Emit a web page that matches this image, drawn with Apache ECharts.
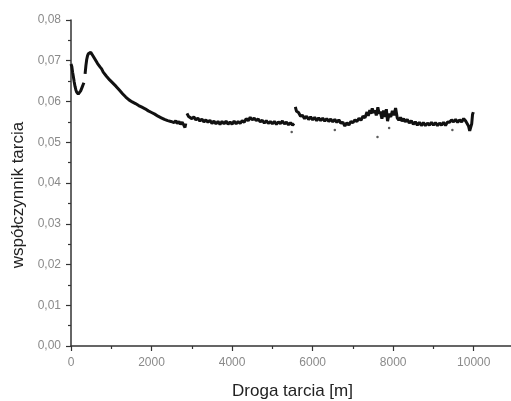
<!DOCTYPE html>
<html>
<head>
<meta charset="utf-8">
<script src="https://cdn.jsdelivr.net/npm/echarts@6/dist/echarts.min.js"></script>
<style>
  html, body { margin: 0; padding: 0; background: #fff; }
  #chart { width: 511px; height: 401px; }
</style>
</head>
<body>
<div id="chart"></div>
<script>
// Sliding distance [m]; null entries break the trace where the measurement restarts
var distance = [
  0, 20, 40, 60, 80, 100, 120, 140, 160, 180, 200, 220, 240, 260, 280, 300, 320,
  335,
  350, 370, 390, 410, 430, 450, 470, 490, 510, 540, 570, 600, 630, 660, 690, 720, 760, 800, 840, 880, 920, 960,
  1000, 1040, 1080, 1120, 1160, 1200, 1240, 1280, 1320, 1360, 1400, 1440, 1480, 1520, 1560, 1600, 1640, 1680,
  1720, 1760, 1800, 1840, 1880, 1920, 1960, 2000, 2040, 2080, 2120, 2160, 2200, 2240, 2280, 2320, 2360, 2400,
  2440, 2480, 2520, 2560, 2600, 2640, 2680, 2720, 2760, 2800, 2830, 2850,
  2860,
  2880, 2920, 2960, 3000, 3050, 3100, 3150, 3200, 3250, 3300, 3350, 3400, 3450, 3500, 3550, 3600, 3650, 3700,
  3750, 3800, 3850, 3900, 3950, 4000, 4050, 4100, 4150, 4200, 4250, 4300, 4350, 4400, 4450, 4500, 4550, 4600,
  4650, 4700, 4750, 4800, 4850, 4900, 4950, 5000, 5050, 5100, 5150, 5200, 5250, 5300, 5350, 5400, 5450, 5500, 5540,
  5550,
  5570, 5600, 5650, 5700, 5750, 5800, 5850, 5900, 5950, 6000, 6050, 6100, 6150, 6200, 6250, 6300, 6350, 6400,
  6450, 6500, 6550, 6600, 6650, 6700, 6750, 6800, 6850, 6900, 6950, 7000, 7050, 7100, 7150, 7200, 7250, 7300,
  7350, 7380, 7420, 7450, 7480, 7520, 7550, 7580, 7620, 7650, 7680, 7720, 7760, 7800, 7830, 7860, 7900, 7940,
  7980, 8020, 8060, 8100, 8140, 8180, 8220, 8260, 8300, 8350, 8400, 8450, 8500, 8550, 8600, 8650, 8700, 8750,
  8800, 8850, 8900, 8950, 9000, 9050, 9100, 9150, 9200, 9250, 9300, 9350, 9400, 9450, 9500, 9550, 9600, 9650,
  9700, 9750, 9800, 9840, 9870, 9900, 9930, 9950, 9970, 9990
];

// Friction coefficient at each distance
var friction = [
  0.0692, 0.0686, 0.0672, 0.0660, 0.0648, 0.0637, 0.0629, 0.0623, 0.0620, 0.0618, 0.0621, 0.0620, 0.0626, 0.0631, 0.0636, 0.0641, 0.0646,
  null,
  0.0668, 0.0688, 0.0703, 0.0712, 0.0717, 0.0720, 0.0719, 0.0721, 0.0717, 0.0713, 0.0708, 0.0703, 0.0698, 0.0693, 0.0689, 0.0685, 0.0680, 0.0672, 0.0670, 0.0662, 0.0661, 0.0653,
  0.0652, 0.0645, 0.0644, 0.0637, 0.0636, 0.0628, 0.0627, 0.0619, 0.0618, 0.0611, 0.0611, 0.0604, 0.0605, 0.0599, 0.0600, 0.0595, 0.0596, 0.0590,
  0.0592, 0.0586, 0.0588, 0.0582, 0.0583, 0.0577, 0.0580, 0.0573, 0.0575, 0.0569, 0.0571, 0.0564, 0.0567, 0.0560, 0.0563, 0.0556, 0.0560, 0.0553,
  0.0557, 0.0551, 0.0555, 0.0548, 0.0553, 0.0546, 0.0551, 0.0544, 0.0549, 0.0542, 0.0536, 0.0546,
  null,
  0.0571, 0.0563, 0.0564, 0.0558, 0.0562, 0.0555, 0.0559, 0.0552, 0.0557, 0.0550, 0.0555, 0.0549, 0.0554, 0.0546, 0.0552, 0.0545, 0.0551, 0.0544,
  0.0551, 0.0545, 0.0552, 0.0544, 0.0550, 0.0544, 0.0552, 0.0545, 0.0551, 0.0546, 0.0553, 0.0549, 0.0558, 0.0553, 0.0561, 0.0555, 0.0559, 0.0553,
  0.0557, 0.0550, 0.0554, 0.0547, 0.0553, 0.0546, 0.0551, 0.0545, 0.0551, 0.0544, 0.0550, 0.0546, 0.0552, 0.0545, 0.0549, 0.0543, 0.0548, 0.0542, 0.0546,
  null,
  0.0587, 0.0576, 0.0573, 0.0564, 0.0566, 0.0558, 0.0564, 0.0556, 0.0562, 0.0555, 0.0561, 0.0553, 0.0560, 0.0553, 0.0559, 0.0552, 0.0558, 0.0551,
  0.0557, 0.0550, 0.0556, 0.0549, 0.0555, 0.0547, 0.0549, 0.0540, 0.0548, 0.0542, 0.0551, 0.0548, 0.0555, 0.0551, 0.0559, 0.0554, 0.0564, 0.0560,
  0.0574, 0.0565, 0.0579, 0.0570, 0.0583, 0.0572, 0.0578, 0.0566, 0.0586, 0.0570, 0.0575, 0.0558, 0.0578, 0.0562, 0.0581, 0.0552, 0.0570, 0.0562,
  0.0577, 0.0566, 0.0584, 0.0560, 0.0554, 0.0561, 0.0552, 0.0558, 0.0550, 0.0556, 0.0547, 0.0553, 0.0544, 0.0550, 0.0542, 0.0549, 0.0541, 0.0548,
  0.0541, 0.0547, 0.0542, 0.0549, 0.0542, 0.0548, 0.0541, 0.0547, 0.0542, 0.0549, 0.0541, 0.0550, 0.0549, 0.0555, 0.0550, 0.0556, 0.0549, 0.0555,
  0.0550, 0.0558, 0.0552, 0.0548, 0.0540, 0.0528, 0.0524, 0.0545, 0.0568, 0.0574
];

// Isolated stray readings below the main trace
var strayDistance = [5480, 6550, 7610, 7900, 9470];
var strayFriction = [0.0525, 0.0530, 0.0513, 0.0535, 0.0530];

var xTicks = [0, 2000, 4000, 6000, 8000, 10000];

var tracePoints = distance.map(function (d, i) { return [d, friction[i]]; });
var strayPoints = strayDistance.map(function (d, i) { return [d, strayFriction[i]]; });

var axisColor = '#333';
var labelColor = '#8a8a8a';
var titleColor = '#222';
var fontFamily = '"Liberation Sans", Arial, sans-serif';

var chart = echarts.init(document.getElementById('chart'), null, { renderer: 'canvas' });
chart.setOption({
  animation: false,
  backgroundColor: '#fff',
  grid: { left: 71, top: 20, bottom: 55, width: 443, containLabel: false, outerBoundsMode: 'none' },
  xAxis: {
    type: 'value',
    min: 0,
    max: 11000,
    interval: 2000,
    name: 'Droga tarcia [m]',
    nameLocation: 'middle',
    nameGap: 37,
    nameTextStyle: { color: titleColor, fontSize: 17, fontFamily: fontFamily },
    axisLine: { show: true, onZero: false, lineStyle: { color: axisColor, width: 1.5 } },
    axisTick: { show: true, length: 5, lineStyle: { color: axisColor, width: 1.2 } },
    minorTick: { show: true, splitNumber: 2, length: 3, lineStyle: { color: axisColor, width: 1.2 } },
    axisLabel: {
      color: labelColor, fontSize: 12, fontFamily: fontFamily, margin: 11,
      showMaxLabel: false,
      formatter: function (v) { return xTicks.indexOf(v) >= 0 ? String(v) : ''; }
    },
    splitLine: { show: false }
  },
  yAxis: {
    type: 'value',
    min: 0,
    max: 0.08,
    interval: 0.01,
    name: 'współczynnik tarcia',
    nameLocation: 'middle',
    nameGap: 44,
    nameTextStyle: { color: titleColor, fontSize: 17, fontFamily: fontFamily, padding: [0, 24, 0, 0] },
    axisLine: { show: true, lineStyle: { color: axisColor, width: 1.5 } },
    axisTick: { show: true, length: 5, lineStyle: { color: axisColor, width: 1.2 } },
    minorTick: { show: true, splitNumber: 2, length: 3, lineStyle: { color: axisColor, width: 1.2 } },
    axisLabel: {
      color: labelColor, fontSize: 12, fontFamily: fontFamily, margin: 10,
      formatter: function (v) { return v.toFixed(2).replace('.', ','); }
    },
    splitLine: { show: false }
  },
  series: [
    {
      type: 'line',
      data: tracePoints,
      showSymbol: false,
      connectNulls: false,
      lineStyle: { color: '#111', width: 3 },
      z: 3
    },
    {
      type: 'scatter',
      data: strayPoints,
      symbolSize: 2.5,
      itemStyle: { color: '#333' },
      z: 2
    }
  ]
});
</script>
</body>
</html>
